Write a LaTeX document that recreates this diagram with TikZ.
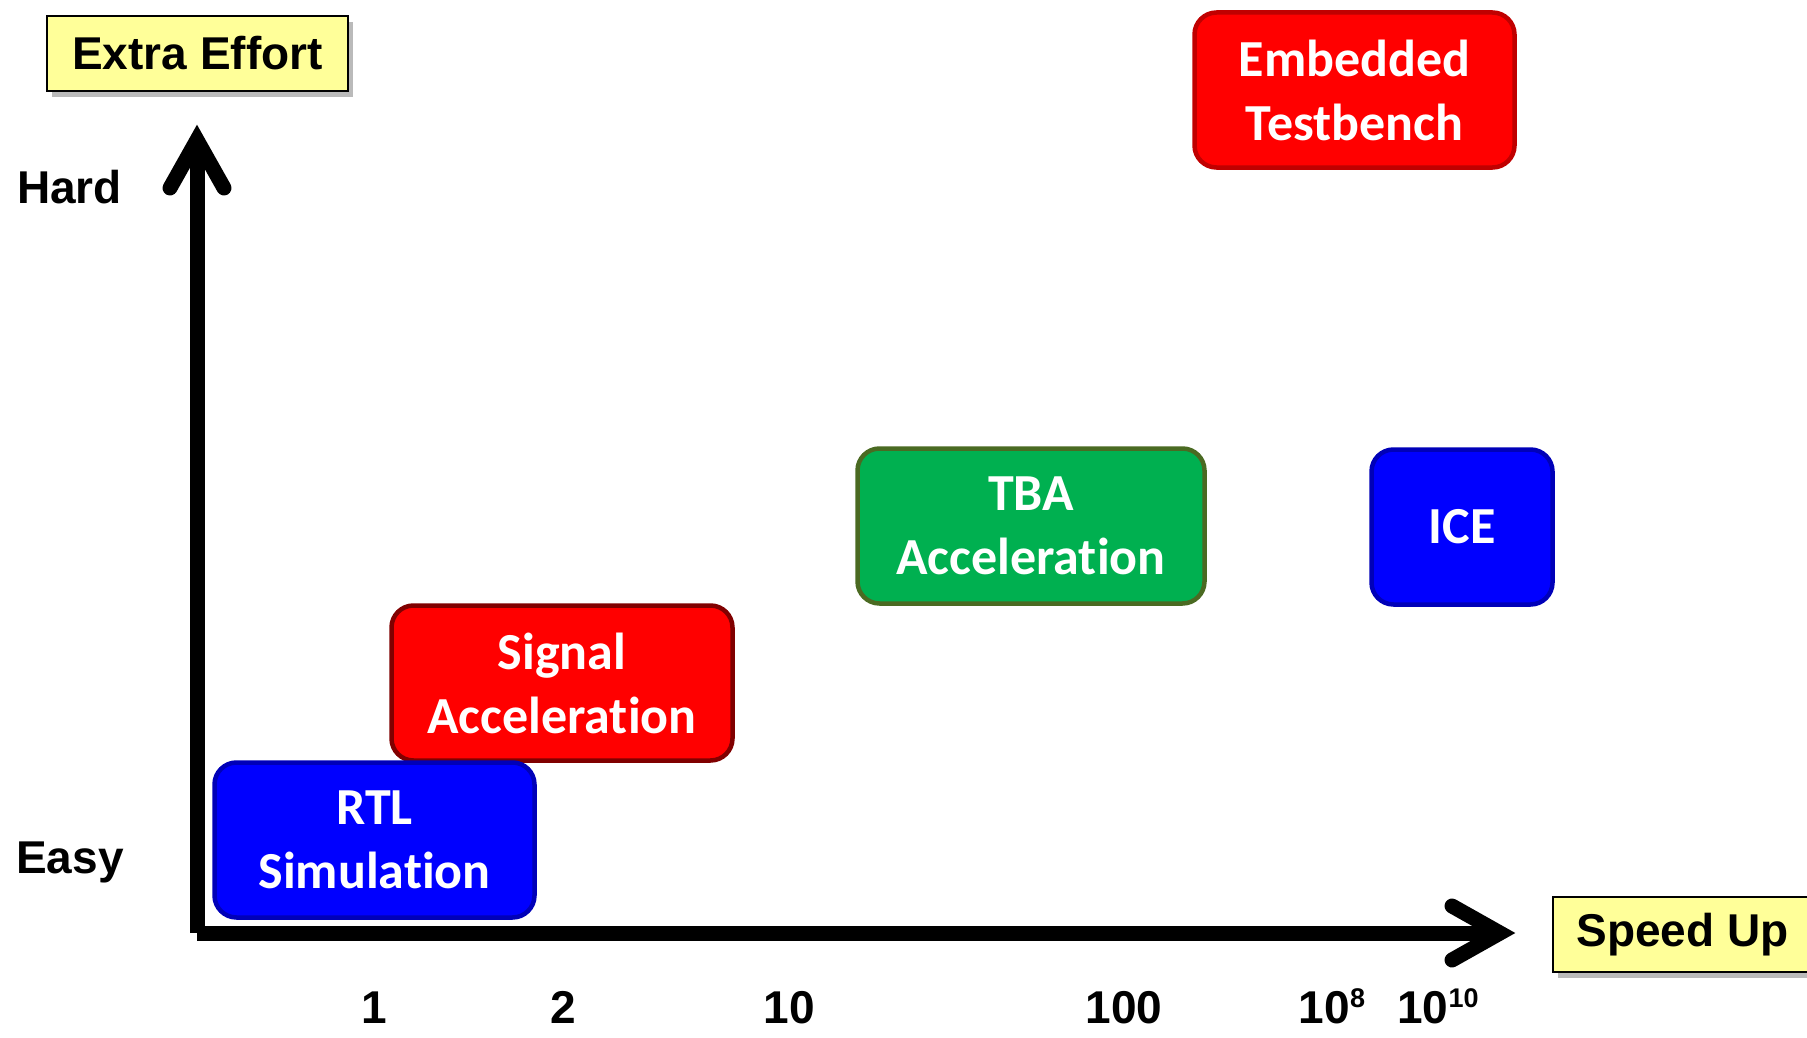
\documentclass[tikz,border=0pt]{standalone}
\usepackage{fontspec}
\setmainfont{Liberation Sans}
\newfontfamily\calibri[RawFeature={-liga;-clig;-calt;-dlig}]{Carlito}
\usetikzlibrary{shadows}

\definecolor{tagyellow}{HTML}{FFFF99}
\definecolor{stagered}{HTML}{FF0000}
\definecolor{stageblue}{HTML}{0000FF}
\definecolor{stagegreen}{HTML}{00B050}
\definecolor{edgered}{HTML}{C00000}
\definecolor{edgemaroon}{HTML}{800000}
\definecolor{edgeblue}{HTML}{0000B8}
\definecolor{edgegreen}{HTML}{4A6A22}

% number with a raised exponent
\newcommand{\powof}[2]{#1\raisebox{16pt}{\fontsize{27}{27}\selectfont #2}}

\begin{document}
\begin{tikzpicture}[x=1pt, y=-1pt,
    stage/.style={draw, line width=4.5pt, rounded corners=22pt, text=white, align=center,
        minimum height=155pt, inner sep=0pt, font={\calibri\bfseries\fontsize{52}{64}\selectfont}},
    tag/.style={draw=black, line width=2pt, fill=tagyellow, minimum height=75pt, inner sep=0pt,
        font={\bfseries\fontsize{46}{46}\selectfont},
        drop shadow={shadow xshift=5pt, shadow yshift=-6pt, fill=black!45, opacity=0.6}},
    level/.style={anchor=base, inner sep=0pt, font={\bfseries\fontsize{46}{46}\selectfont}},
    axis/.style={line width=15pt, black}]
    \useasboundingbox (0,0) rectangle (1807,1038);

    % Draw axes
    \coordinate (origin) at (197,933);
    \coordinate (ytip) at (197,140);
    \coordinate (xtip) at (1500,933);
    \draw[axis] (origin) -- (ytip);
    \draw[axis, line cap=round, line join=miter] (170,188) -- (ytip) -- (224,188);
    \draw[axis] (origin) -- (xtip);
    \draw[axis, line cap=round, line join=miter] (1452,906) -- (xtip) -- (1452,960);

    % Axis titles
    \node[tag, minimum width=301pt] (effort) at (197.5,53.5) {Extra Effort};
    \node[tag, minimum width=259pt] (speedup) at (1682.5,934.5) {Speed Up};

    % Effort levels
    \node[level] (hard) at (69.5,203) {Hard};
    \node[level] (easy) at (70,873) {Easy};

    % Speed-up values
    \node[level] (t1) at (374,1023) {1};
    \node[level] (t2) at (563,1023) {2};
    \node[level] (t10) at (789,1023) {10};
    \node[level] (t100) at (1124,1023) {100};
    \node[level] (t8) at (1332,1023) {\powof{10}{8}};
    \node[level] (t10b) at (1438,1023) {\powof{10}{10}};

    % Verification methods
    \node[stage, fill=stagered, draw=edgered, minimum width=320pt] (emb) at (1354.5,90) {Embedded\\Testbench};
    \node[stage, fill=stagegreen, draw=edgegreen, minimum width=347pt] (tba) at (1031,526) {TBA\\Acceleration};
    \node[stage, fill=stageblue, draw=edgeblue, minimum width=181pt] (ice) at (1462,527) {ICE};
    \node[stage, fill=stagered, draw=edgemaroon, minimum width=341pt] (sig) at (562,683) {Signal\\Acceleration};
    \node[stage, fill=stageblue, draw=edgeblue, minimum width=320pt] (rtl) at (374.5,840) {RTL\\Simulation};

\end{tikzpicture}
\end{document}
